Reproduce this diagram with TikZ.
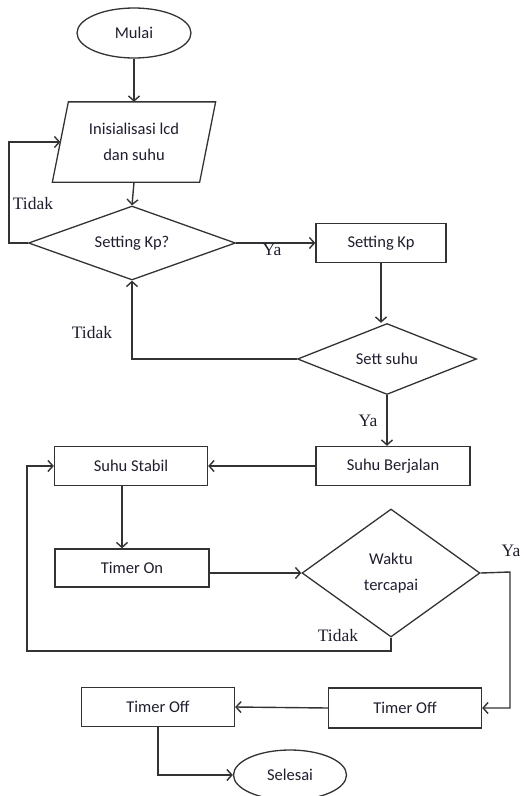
\documentclass[tikz,border=0pt]{standalone}
\usepackage{fontspec}
\setmainfont{Liberation Serif}
\newfontfamily\calfont{Carlito}
\usetikzlibrary{shapes.geometric,arrows.meta}
\definecolor{ln}{HTML}{333333}
\definecolor{tx}{HTML}{1E1E30}
\tikzset{
  base/.style={draw=ln, line width=1.3pt, text=tx, inner sep=0pt,
    font=\calfont\fontsize{16.5}{26.5}\selectfont, align=center},
  boxn/.style={base, rectangle, minimum width=#1, minimum height=39pt},
  term/.style={base, ellipse, minimum width=114pt, minimum height=50pt},
  dec/.style={base, diamond, aspect=2},
  arr/.style={draw=ln, line width=1.4pt, -{Straight Barb[length=5pt,width=11pt]}},
  con/.style={draw=ln, line width=1.3pt},
  lbl/.style={text=tx, font=\fontsize{17.5}{20}\selectfont, inner sep=0pt}
}
\begin{document}
\begin{tikzpicture}[x=1pt,y=-1pt]
\useasboundingbox (0,0) rectangle (523,796);
% nodes
\node[term] (mulai) at (134,33) {Mulai};
\node[base, draw=none, minimum width=146pt, minimum height=79pt] (init) at (134,142) {Inisialisasi lcd\\dan suhu};
\draw[con] ([xshift=8pt]init.north west) -- ([xshift=8pt]init.north east)
  -- ([xshift=-8pt]init.south east) -- ([xshift=-8pt]init.south west) -- cycle;
\node[dec, minimum width=207pt, minimum height=74pt] (d1) at (132,243) {Setting Kp?};
\node[boxn=130pt] (kp) at (381,243) {Setting Kp};
\node[dec, minimum width=179pt, minimum height=71pt] (d2) at (387,359) {Sett suhu};
\node[boxn=154pt] (berjalan) at (393,466) {Suhu Berjalan};
\node[boxn=153pt] (stabil) at (131,466) {Suhu Stabil};
\node[boxn=154pt, minimum height=38pt] (timeron) at (132,568) {Timer On};
\node[dec, minimum width=178pt, minimum height=128pt, aspect=1.4] (d3) at (391,573) {Waktu\\tercapai};
\node[boxn=153pt, minimum height=40pt] (toffr) at (405,708) {Timer Off};
\node[boxn=153pt] (toffl) at (158,707) {Timer Off};
\node[term, minimum width=113pt] (selesai) at (290,775) {Selesai};
% helper coordinates
\coordinate (lp) at (27,651);
\coordinate (rp) at (510,572);
\coordinate (tl) at (9,243);
% connectors
\draw[arr] (mulai) -- (init);
\draw[arr] (init.south) -- (d1.north);
\draw[arr] (d1.west) -- (tl) |- (init.west);
\draw[arr] (d1.east) -- (kp.west);
\draw[arr] (kp.south) -- (kp.south |- d2.north);
\draw[arr] (d2.west) -| (d1.south);
\draw[arr] (d2.south) -- (d2.south |- berjalan.north);
\draw[arr] (berjalan.west) -- (stabil.east);
\draw[arr] ([xshift=-9pt]stabil.south) -- ([xshift=-9pt]stabil.south |- timeron.north);
\draw[arr] (timeron.east |- d3.west) -- (d3.west);
\draw[arr] (d3.south) |- (lp) |- (stabil.west);
\draw[arr] (d3.east) -- (rp) |- (toffr.east);
\draw[arr] (toffr.west) -- (toffl.east);
\draw[arr] (toffl.south) |- (selesai.west);
% labels
\node[lbl] (t1) at (33,204) {Tidak};
\node[lbl] (y1) at (272,250) {Ya};
\node[lbl] (t2) at (92,333) {Tidak};
\node[lbl] (y2) at (368,421) {Ya};
\node[lbl] (t3) at (338,636) {Tidak};
\node[lbl] (y3) at (511,551) {Ya};
\end{tikzpicture}
\end{document}
